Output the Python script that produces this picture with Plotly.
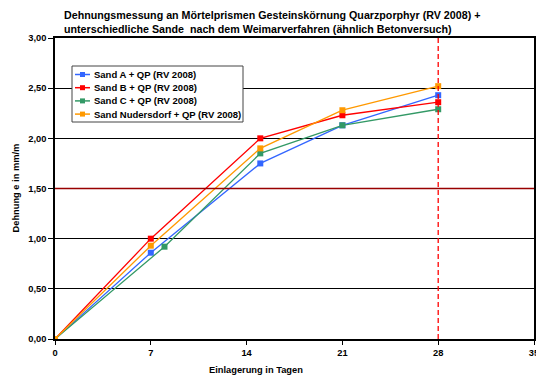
import plotly.graph_objects as go

days_a = [0, 7, 15, 21, 28]
sand_a = [0.00, 0.86, 1.75, 2.13, 2.43]
days_b = [0, 7, 15, 21, 28]
sand_b = [0.00, 1.00, 2.00, 2.23, 2.36]
days_c = [0, 8, 15, 21, 28]
sand_c = [0.00, 0.92, 1.85, 2.13, 2.29]
days_n = [0, 7, 15, 21, 28]
sand_n = [0.00, 0.93, 1.90, 2.28, 2.52]

names = ["Sand A + QP (RV 2008)", "Sand B + QP (RV 2008)",
         "Sand C + QP (RV 2008)", "Sand Nudersdorf + QP (RV 2008)"]
colors = ["#3366FF", "#FF0000", "#339966", "#FF9900"]
limit_value = 1.50
limit_day = 28
x_ticks = [0, 7, 14, 21, 28, 35]
y_ticks = [0, 0.5, 1.0, 1.5, 2.0, 2.5, 3.0]

FONT = "Arial, Liberation Sans, sans-serif"
W, H = 536, 376
ML, MR, MT, MB = 55, 2, 38, 37
PW, PH = W - ML - MR, H - MT - MB


def px_x(p):
    return (p - ML) / PW


def px_y(p):
    return (H - MB - p) / PH


fig = go.Figure()
for xs, ys, nm, col in zip([days_a, days_b, days_c, days_n],
                           [sand_a, sand_b, sand_c, sand_n], names, colors):
    fig.add_trace(go.Scatter(x=xs, y=ys, name=nm, mode="lines+markers",
                             line=dict(color=col, width=1.3),
                             marker=dict(symbol="square", size=6, color=col),
                             showlegend=False))

shapes = [
    dict(type="line", xref="paper", x0=0, x1=1, yref="y",
         y0=limit_value, y1=limit_value, line=dict(color="#990000", width=1.5)),
    dict(type="line", xref="x", x0=limit_day, x1=limit_day, yref="y",
         y0=0, y1=3, line=dict(color="#FF0000", width=1.3, dash="5px,3px")),
]
annotations = [
    dict(text="Dehnungsmessung an Mörtelprismen Gesteinskörnung Quarzporphyr (RV 2008) +<br>"
              "unterschiedliche Sande  nach dem Weimarverfahren (ähnlich Betonversuch)",
         xref="paper", yref="paper", x=px_x(62), y=1, xanchor="left", yanchor="bottom",
         yshift=1, align="left", showarrow=False,
         font=dict(family=FONT, size=10.7, color="black", weight="bold")),
    dict(text="Dehnung e in mm/m", xref="paper", yref="paper",
         x=px_x(15), y=0.5, textangle=-90, showarrow=False,
         xanchor="center", yanchor="middle",
         font=dict(family=FONT, size=9.3, color="black", weight="bold")),
    dict(text="Einlagerung in Tagen", xref="paper", yref="paper",
         x=px_x(256), y=px_y(370), showarrow=False,
         xanchor="center", yanchor="middle",
         font=dict(family=FONT, size=9.3, color="black", weight="bold")),
]

# legend box (drawn by hand to match the compact Excel legend)
shapes.append(dict(type="rect", xref="paper", yref="paper",
                   x0=px_x(72), x1=px_x(243), y0=px_y(122), y1=px_y(66),
                   fillcolor="white", line=dict(color="#444444", width=1), layer="above"))
for i, (nm, col) in enumerate(zip(names, colors)):
    cy = 74.5 + i * 13.2
    shapes.append(dict(type="line", xref="paper", yref="paper",
                       x0=px_x(75), x1=px_x(90), y0=px_y(cy), y1=px_y(cy),
                       line=dict(color=col, width=1.5), layer="above"))
    shapes.append(dict(type="rect", xref="paper", yref="paper",
                       x0=px_x(80), x1=px_x(85), y0=px_y(cy + 2.5), y1=px_y(cy - 2.5),
                       fillcolor=col, line=dict(width=0), layer="above"))
    annotations.append(dict(text=nm, xref="paper", yref="paper",
                            x=px_x(92), y=px_y(cy), xanchor="left", yanchor="middle",
                            showarrow=False,
                            font=dict(family=FONT, size=9.5, color="black", weight="bold")))

fig.update_layout(
    width=W, height=H,
    margin=dict(l=ML, r=MR, t=MT, b=MB, autoexpand=False),
    paper_bgcolor="white", plot_bgcolor="white",
    separators=",.",
    font=dict(family=FONT, size=9, color="black"),
    showlegend=False,
    xaxis=dict(range=[0, 35], tickvals=x_ticks, showgrid=False,
               showline=True, linecolor="black", linewidth=1.5, mirror=True,
               ticks="outside", ticklen=4, tickcolor="black",
               ticklabeloverflow="allow", automargin=False,
               tickfont=dict(family=FONT, size=9.3, color="black", weight="bold"),
               zeroline=False, fixedrange=True),
    yaxis=dict(range=[0, 3], tickvals=y_ticks, tickformat=".2f",
               showgrid=True, gridcolor="black", gridwidth=1,
               showline=True, linecolor="black", linewidth=1.5, mirror=True,
               ticks="outside", ticklen=5, tickcolor="black",
               ticklabeloverflow="allow", automargin=False,
               tickfont=dict(family=FONT, size=9.3, color="black", weight="bold"),
               zeroline=False, fixedrange=True),
    shapes=shapes,
    annotations=annotations,
)

fig.write_html("out.html")
